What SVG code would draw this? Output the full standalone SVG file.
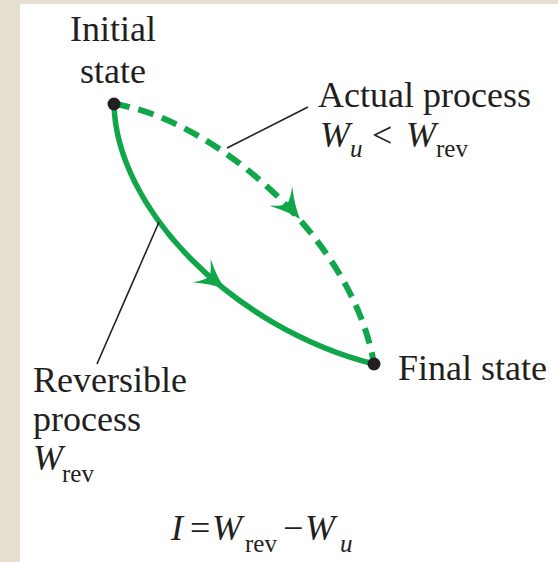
<svg xmlns="http://www.w3.org/2000/svg" width="558" height="562" viewBox="0 0 558 562">
<style>
.t{font-family:"Liberation Serif","Times New Roman",serif;font-size:36px;fill:#231f20}
.i{font-style:italic}
.s{font-size:25px}
.g{fill:none;stroke:#10a64a;stroke-linecap:butt}
.lead{stroke:#231f20;stroke-width:1.6;fill:none}
</style>
<defs>
<path id="ah" d="M0,0 Q-15,-5 -30,-15 Q-21,-5 -20,0 Q-21,5 -30,15 Q-15,5 0,0 Z" fill="#10a64a"/>
</defs>
<rect x="0" y="0" width="558" height="562" fill="#e7dfd2"/>
<rect x="20" y="4" width="538" height="558" fill="#ffffff"/>
<g id="connectors">
<path class="g" d="M114,104 C116,208 232,328 374,364" stroke-width="5.5"/>
<path class="g" d="M114,104 C210,118 352,235 374,364" stroke-width="6" stroke-dasharray="16,9"/>
<use href="#ah" transform="translate(225,289) rotate(38)"/>
<use href="#ah" transform="translate(300,219) rotate(50)"/>
<line class="lead" x1="227" y1="148" x2="308" y2="107"/>
<line class="lead" x1="159" y1="222" x2="97" y2="364"/>
</g>
<g id="initial">
<circle cx="114" cy="104" r="6.5" fill="#231f20"/>
<text class="t" x="113" y="41" text-anchor="middle">Initial</text>
<text class="t" x="113" y="83" text-anchor="middle">state</text>
</g>
<g id="final">
<circle cx="374" cy="364" r="6.5" fill="#231f20"/>
<text class="t" x="398" y="380">Final state</text>
</g>
<g id="actual">
<text class="t" x="318" y="107">Actual process</text>
<text class="t" y="147"><tspan class="i" x="320">W</tspan><tspan class="i s" x="350" y="157">u</tspan><tspan x="372" y="147">&lt;</tspan><tspan class="i" x="406">W</tspan><tspan class="s" x="436" y="157">rev</tspan></text>
</g>
<g id="reversible">
<text class="t" x="33" y="392">Reversible</text>
<text class="t" x="33" y="431">process</text>
<text class="t" y="470"><tspan class="i" x="33">W</tspan><tspan class="s" x="62" y="482">rev</tspan></text>
</g>
<g id="equation">
<text class="t" y="540"><tspan class="i" x="171">I</tspan><tspan x="190">=</tspan><tspan class="i" x="212">W</tspan><tspan class="s" x="245" y="552">rev</tspan><tspan x="283" y="540">−</tspan><tspan class="i" x="305">W</tspan><tspan class="i s" x="340" y="552">u</tspan></text>
</g>
</svg>
